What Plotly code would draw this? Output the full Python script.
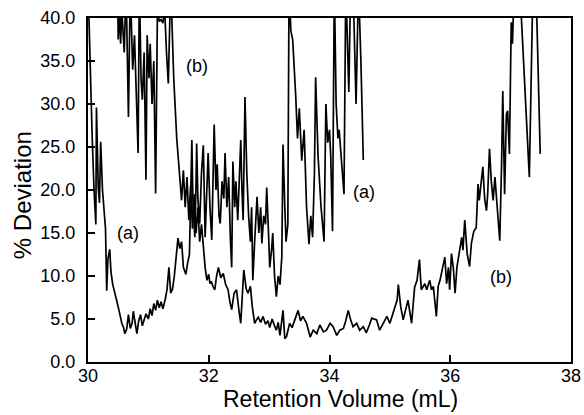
import plotly.graph_objects as go

# Curve (a)
x_a = [30.00, 30.03, 30.07, 30.10, 30.13, 30.14, 30.17, 30.19, 30.21, 30.24, 30.27, 30.29,
       30.31, 30.33, 30.36, 30.38, 30.41, 30.45, 30.48, 30.52, 30.56, 30.59, 30.61, 30.64,
       30.67, 30.70, 30.73, 30.75, 30.78, 30.81, 30.84, 30.87, 30.90, 30.93, 30.96, 31.00,
       31.03, 31.06, 31.09, 31.12, 31.15, 31.18, 31.21, 31.24, 31.28, 31.31, 31.34, 31.37,
       31.40, 31.43, 31.46, 31.49, 31.52, 31.55, 31.58, 31.62, 31.65, 31.68,
       31.70, 31.72, 31.74, 31.77, 31.79, 31.80, 31.82, 31.85, 31.88, 31.91, 31.94, 31.96,
       31.99, 32.02, 32.05, 32.09, 32.12, 32.14, 32.17, 32.19, 32.22, 32.25, 32.27, 32.30,
       32.33, 32.36, 32.38, 32.40, 32.43, 32.45, 32.48, 32.51, 32.53, 32.55, 32.57, 32.60,
       32.63, 32.66, 32.69, 32.71, 32.73, 32.76, 32.78, 32.80, 32.83, 32.86, 32.88, 32.91,
       32.94, 32.96, 32.99, 33.01, 33.04, 33.06, 33.09, 33.12, 33.15, 33.18, 33.21, 33.23,
       33.26, 33.28, 33.31, 33.33, 33.36, 33.39, 33.44, 33.47, 33.50, 33.54, 33.58, 33.62,
       33.66, 33.69, 33.72, 33.75, 33.77, 33.81, 33.86, 33.91, 33.94, 33.97, 34.00, 34.02,
       34.05, 34.08, 34.11, 34.14, 34.16, 34.19, 34.24, 34.27, 34.30, 34.32, 34.35, 34.40,
       34.44, 34.48, 34.52, 34.56]
y_a = [44.0, 35.0, 26.0, 20.0, 16.0, 29.6, 20.3, 18.5, 25.6, 20.0, 17.0, 15.5,
       8.3, 12.0, 13.1, 10.5, 9.0, 8.0, 7.0, 5.8, 4.5, 4.0, 3.3, 3.8,
       5.5, 3.9, 4.5, 5.9, 4.6, 3.3, 4.8, 5.5, 4.2, 4.8, 5.6, 5.0,
       6.2, 5.4, 6.8, 6.0, 7.2, 6.3, 7.0, 6.2, 7.3, 8.5, 11.0, 8.0,
       8.5, 10.0, 12.0, 14.4, 13.2, 14.0, 11.0, 10.2, 11.5, 12.5,
       19.0, 25.8, 18.0, 14.5, 21.0, 25.4, 19.0, 16.1, 22.0, 25.2, 14.5, 19.0,
       24.3, 18.0, 14.2, 27.6, 20.0, 23.0, 17.0, 16.1, 21.0, 19.0, 24.3, 18.0,
       21.5, 14.0, 11.0, 23.3, 18.0, 21.0, 16.5, 22.0, 25.8, 20.0, 16.5, 30.8,
       22.0, 17.0, 14.0, 18.0, 9.5, 14.0, 16.5, 19.2, 15.0, 18.0, 13.8, 17.0,
       16.0, 20.3, 15.0, 11.0, 13.0, 15.0, 10.0, 7.6, 10.0, 9.0, 12.2, 25.3,
       18.0, 14.0, 16.0, 44.0, 38.5, 37.5, 31.0, 26.0, 29.5, 23.4, 27.0, 18.0,
       13.7, 17.0, 14.5, 21.9, 33.1, 24.0, 18.0, 14.0, 30.0, 25.5, 27.0, 24.0,
       15.2, 44.0, 30.0, 26.0, 27.0, 24.0, 19.5, 44.0, 36.0, 31.4, 44.0, 41.0,
       30.0, 44.0, 35.0, 23.5]

# Curve (b)
x_b = [30.49, 30.50, 30.52, 30.54, 30.56, 30.60, 30.63, 30.67, 30.70, 30.74, 30.77, 30.80,
       30.83, 30.85, 30.88, 30.90, 30.93, 30.96, 30.98, 31.01, 31.03, 31.06, 31.09, 31.12,
       31.15, 31.18, 31.21, 31.24, 31.27, 31.30, 31.33, 31.37, 31.42, 31.47, 31.52, 31.55,
       31.58, 31.61, 31.64, 31.67, 31.70, 31.73, 31.76, 31.79, 31.82, 31.85, 31.88, 31.91,
       31.94, 31.97, 32.00, 32.02, 32.04, 32.07, 32.10, 32.13, 32.16, 32.20, 32.24, 32.28,
       32.32, 32.35, 32.38, 32.42, 32.46, 32.50, 32.53, 32.58, 32.62, 32.65, 32.69, 32.72,
       32.76, 32.79, 32.82, 32.86, 32.90, 32.94, 32.98, 33.01, 33.05, 33.09, 33.12, 33.15,
       33.18, 33.23, 33.26, 33.29, 33.34, 33.38, 33.42, 33.45, 33.48, 33.52, 33.56, 33.62,
       33.65, 33.68, 33.73, 33.79, 33.84, 33.90, 33.95, 34.01, 34.06, 34.12, 34.17, 34.23,
       34.27, 34.31, 34.35, 34.39, 34.45, 34.50, 34.56, 34.61, 34.66, 34.70, 34.78, 34.83,
       34.89, 34.95, 35.00, 35.06, 35.12, 35.14, 35.18, 35.22, 35.26, 35.30, 35.36, 35.41,
       35.45, 35.49, 35.52, 35.58, 35.61, 35.66, 35.69, 35.72, 35.77, 35.80, 35.83, 35.88,
       35.91, 35.94, 35.97, 35.99, 36.02, 36.05, 36.08, 36.11, 36.13, 36.16, 36.19, 36.21,
       36.24, 36.28, 36.32, 36.35, 36.39, 36.43, 36.46, 36.48, 36.51, 36.54, 36.57, 36.60,
       36.62, 36.65, 36.68, 36.71, 36.74, 36.78, 36.82, 36.85, 36.87, 36.90, 36.93, 36.95,
       36.98, 37.01, 37.03, 37.06, 37.10, 37.15, 37.23, 37.31, 37.37, 37.42, 37.49]
y_b = [44.0, 37.5, 41.0, 37.0, 41.0, 36.0, 44.0, 28.5, 44.0, 34.0, 38.0, 30.0,
       24.3, 44.0, 32.8, 30.5, 36.0, 21.2, 38.0, 33.0, 37.0, 30.0, 35.0, 19.6,
       41.0, 39.6, 39.8, 39.4, 41.0, 36.0, 32.4, 44.0, 33.0, 26.0, 21.0, 18.8,
       22.3, 18.0, 21.5, 16.5, 20.5, 15.5, 19.5, 15.0, 18.0, 14.0, 16.0, 13.4,
       11.0, 9.5, 10.2, 9.1, 9.4, 8.8, 8.4, 10.0, 11.0, 9.8, 10.3, 9.0,
       8.4, 7.0, 6.1, 8.0, 8.4, 6.0, 4.5, 10.7, 8.5, 8.0, 8.8, 6.5,
       4.5, 4.9, 5.2, 4.6, 5.3, 4.4, 4.8, 4.0, 5.0, 4.2, 3.7, 4.6,
       3.1, 6.0, 2.7, 3.0, 4.5, 4.0, 4.9, 5.6, 6.0, 4.8, 5.3, 4.5,
       3.6, 2.9, 3.7, 3.3, 4.3, 3.5, 3.7, 4.5, 4.1, 3.1, 3.7, 3.9,
       4.8, 6.0, 4.9, 4.1, 4.5, 3.7, 4.1, 3.4, 4.3, 5.1, 4.9, 3.7,
       4.5, 5.3, 4.5, 6.0, 7.2, 9.0, 6.4, 4.9, 6.0, 7.2, 4.5, 8.7,
       9.5, 11.9, 8.4, 9.1, 8.4, 9.5, 8.4, 8.8, 5.3, 8.8, 9.5, 11.0,
       12.2, 9.1, 11.0, 8.4, 12.6, 11.0, 8.0, 11.0, 11.9, 13.4, 14.5, 13.0,
       16.5, 12.6, 11.1, 13.8, 15.2, 15.6, 20.7, 18.8, 21.0, 22.7, 19.0, 17.6,
       19.5, 24.8, 21.0, 18.8, 21.5, 17.2, 14.1, 23.0, 31.5, 19.5, 28.8, 29.2,
       24.2, 39.5, 37.0, 44.0, 41.0, 44.0, 32.0, 21.5, 44.0, 44.0, 24.2]

x_ticks = [30, 32, 34, 36, 38]
y_ticks = [0, 5, 10, 15, 20, 25, 30, 35, 40]
y_tick_labels = ["0.0", "5.0", "10.0", "15.0", "20.0", "25.0", "30.0", "35.0", "40.0"]

labels_text = ["(a)", "(b)", "(a)", "(b)"]
labels_x = [30.66, 31.80, 34.57, 36.84]
labels_y = [15.0, 34.4, 19.8, 9.9]

fig = go.Figure()
line_style = dict(color="black", width=1.7)
fig.add_trace(go.Scatter(x=x_a, y=y_a, mode="lines", line=line_style, showlegend=False))
fig.add_trace(go.Scatter(x=x_b, y=y_b, mode="lines", line=line_style, showlegend=False))

for t, lx, ly in zip(labels_text, labels_x, labels_y):
    fig.add_annotation(x=lx, y=ly, text=t, showarrow=False,
                       font=dict(family="Liberation Sans", size=18, color="black"))

title_font = dict(family="Liberation Sans", size=23, color="black")
fig.add_annotation(x=0.522, y=-0.108, xref="paper", yref="paper", text="Retention Volume (mL)",
                   showarrow=False, xanchor="center", yanchor="middle", font=title_font)
fig.add_annotation(x=-0.1366, y=0.485, xref="paper", yref="paper", text="% Deviation",
                   showarrow=False, xanchor="center", yanchor="middle", textangle=-90,
                   font=dict(family="Liberation Sans", size=24, color="black"))

axis_common = dict(showgrid=False, zeroline=False, showline=True, linecolor="black",
                   linewidth=2, mirror=True, ticks="inside", ticklen=7, tickwidth=1.5,
                   tickcolor="black", automargin=False,
                   tickfont=dict(family="Liberation Sans", size=18, color="black"))

fig.update_xaxes(range=[30, 38], tickvals=x_ticks, ticktext=[str(v) for v in x_ticks],
                 ticklabelstandoff=-4, **axis_common)
fig.update_yaxes(range=[0, 40], tickvals=y_ticks, ticktext=y_tick_labels,
                 ticklabelstandoff=7, **axis_common)

fig.update_layout(width=584, height=415, margin=dict(l=88, r=13, t=18, b=53),
                  paper_bgcolor="white", plot_bgcolor="white")

fig.write_html("out.html")
